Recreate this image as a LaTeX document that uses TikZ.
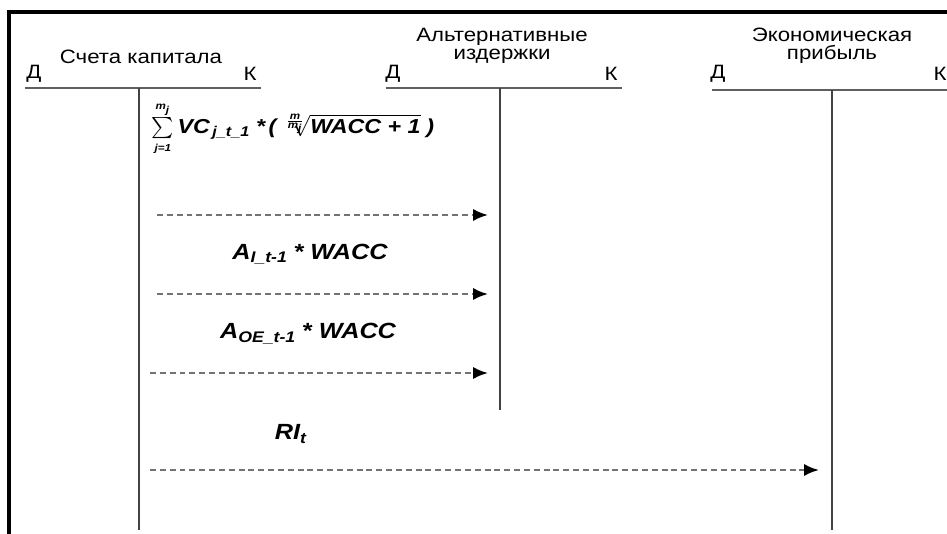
\documentclass[tikz,border=0pt]{standalone}
\usepackage{amsmath}
\usepackage{fontspec}
\setmainfont[FakeStretch=1.15]{Liberation Sans}
\usepackage{tikz}
\usetikzlibrary{arrows.meta, positioning}
\definecolor{tgray}{RGB}{95, 95, 95}
\definecolor{dgray}{RGB}{115, 115, 115}
\newcommand{\tb}[1]{\text{\bfseries\itshape #1}}

\begin{document}
\begin{tikzpicture}[x=0.02cm, y=-0.02cm,
  title/.style={font=\fontsize{11}{10.5}\selectfont, align=center, inner sep=0pt},
  side/.style={font=\fontsize{11}{12}\selectfont, inner sep=0pt},
  tbar/.style={line width=1.6pt, draw=tgray},
  tstem/.style={line width=1.2pt, draw=tgray!70!black},
  flow/.style={draw=dgray, line width=1.4pt, dash pattern=on 3.4pt off 2.2pt,
               -{Latex[length=8.5pt, width=7pt, color=black]}},
  sum/.style={font=\fontsize{12.5}{14}\selectfont\bfseries\itshape, inner sep=0pt}
]
  \useasboundingbox (0,0) rectangle (947,534);

  %% Frame (top and left edges only)
  \draw[line width=2.3pt] (9,534) -- (9,12) -- (947,12);

  %% Capital accounts
  \coordinate (capL) at (25,88);
  \coordinate (capR) at (261,88);
  \coordinate (capTop) at (139,88);
  \coordinate (capBot) at (139,530);
  \draw[tbar] (capL) -- (capR);
  \draw[tstem] (capTop) -- (capBot);
  \node[title] (capT) at (141,57) {Счета капитала};
  \node[side]  (capD) at (34,74) {Д};
  \node[side]  (capK) at (250,74) {К};

  %% Opportunity costs
  \coordinate (altL) at (386,88);
  \coordinate (altR) at (622,88);
  \coordinate (altTop) at (500,88);
  \coordinate (altBot) at (500,410);
  \draw[tbar] (altL) -- (altR);
  \draw[tstem] (altTop) -- (altBot);
  \node[title] (altT) at (502,46) {Альтернативные\\издержки};
  \node[side]  (altD) at (393,74) {Д};
  \node[side]  (altK) at (611,74) {К};

  %% Economic profit
  \coordinate (prfL) at (712,90);
  \coordinate (prfR) at (947,90);
  \coordinate (prfTop) at (832,90);
  \coordinate (prfBot) at (832,530);
  \draw[tbar] (prfL) -- (prfR);
  \draw[tstem] (prfTop) -- (prfBot);
  \node[title] (prfT) at (832,46) {Экономическая\\прибыль};
  \node[side]  (prfD) at (718,74) {Д};
  \node[side]  (prfK) at (940,74) {К};

  %% Charges
  \node[sum, font=\fontsize{11.5}{13}\selectfont\bfseries\itshape] (vc) at (293,129)
    {$\textstyle\sum\limits_{\scriptscriptstyle\tb{j=1}}^{\scriptscriptstyle\tb{m}_{\tb{j}}}
      \tb{VC}_{\,\tb{j\_t\_1}}\;\tb{*}\,\tb{(}\,
      \sqrt[\frac{\tb{m}}{\tb{m}_{\tb{j}}}]{\tb{WACC + 1}}\;\tb{)}$};
  \coordinate (f1s) at (157,215);
  \coordinate (f1e) at (488,215);
  \draw[flow] (f1s) -- (f1e);

  \node[sum] (ai) at (310,254)
    {$\tb{A}_{\tb{I\_t-1}}\;\tb{* WACC}$};
  \coordinate (f2s) at (157,294);
  \coordinate (f2e) at (488,294);
  \draw[flow] (f2s) -- (f2e);

  \node[sum] (aoe) at (308,334)
    {$\tb{A}_{\tb{OE\_t-1}}\;\tb{* WACC}$};
  \coordinate (f3s) at (150,373);
  \coordinate (f3e) at (488,373);
  \draw[flow] (f3s) -- (f3e);

  \node[sum] (ri) at (291,434) {$\tb{RI}_{\tb{t}}$};
  \coordinate (f4s) at (150,470);
  \coordinate (f4e) at (819,470);
  \draw[flow] (f4s) -- (f4e);
\end{tikzpicture}
\end{document}
